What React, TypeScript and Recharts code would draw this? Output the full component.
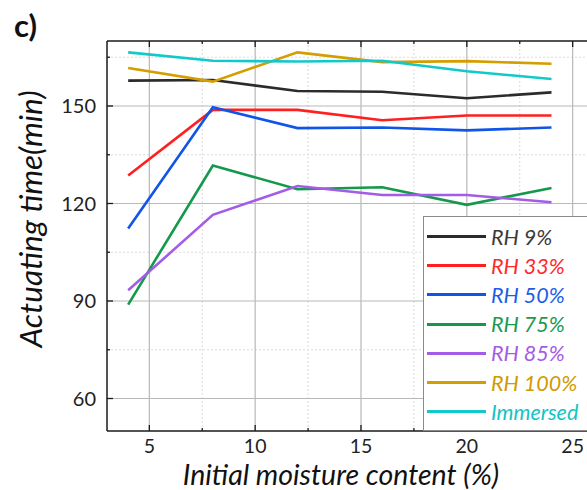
import React from "react";

// Library
import { LineChart, XAxis, YAxis, Line, ReferenceLine } from "recharts";

const moisture = [4, 8, 12, 16, 20, 24];

const rh9 = [157.8, 158, 154.6, 154.4, 152.4, 154.2];
const rh33 = [128.6, 148.8, 148.8, 145.6, 147.1, 147.1];
const rh50 = [112.3, 149.6, 143.2, 143.4, 142.5, 143.4];
const rh75 = [88.9, 131.7, 124.4, 125, 119.6, 124.8];
const rh85 = [93.3, 116.5, 125.4, 122.6, 122.6, 120.4];
const rh100 = [161.7, 157.5, 166.5, 163.5, 163.8, 163];
const immersed = [166.5, 163.9, 163.7, 163.9, 160.7, 158.3];

const xMajor = [5, 10, 15, 20, 25];
const xMinor = [7.5, 12.5, 17.5, 22.5];
const yMajor = [60, 90, 120, 150];
const yMinor = [75, 105, 135, 165];

const series = [
  { key: "rh9", name: "RH 9%", values: rh9, color: "#2b2b2b", text: "#3a3a3a" },
  { key: "rh33", name: "RH 33%", values: rh33, color: "#ff1f1f", text: "#ff2a2a" },
  { key: "rh50", name: "RH 50%", values: rh50, color: "#0f55e8", text: "#1a5ee8" },
  { key: "rh75", name: "RH 75%", values: rh75, color: "#14994c", text: "#1a9a50" },
  { key: "rh85", name: "RH 85%", values: rh85, color: "#a45ce6", text: "#a45ce6" },
  { key: "rh100", name: "RH 100%", values: rh100, color: "#d49e00", text: "#d09a00" },
  { key: "immersed", name: "Immersed", values: immersed, color: "#12c9c9", text: "#12c4c4" },
];

const data = moisture.map((m, i) => {
  const row: { [key: string]: number } = { m };
  series.forEach((s) => (row[s.key] = s.values[i]));
  return row;
});

const xTicks = [...xMajor, ...xMinor].sort((a, b) => a - b);
const yTicks = [...yMajor, ...yMinor].sort((a, b) => a - b);

const FONT = "Lato, 'Open Sans', sans-serif";
const AXIS = "#1a1a1a";

function BottomTick({ x, y, payload }: any) {
  const major = xMajor.includes(payload.value);
  return (
    <g>
      <line x1={x} x2={x} y1={y} y2={y - (major ? 6 : 3)} stroke={AXIS} strokeWidth={1.3} />
      {major && (
        <text x={x} y={y + 22} textAnchor="middle" fontSize={19.5} fontFamily={FONT} fill="#222">
          {payload.value}
        </text>
      )}
    </g>
  );
}

function TopTick({ x, y, payload }: any) {
  const major = xMajor.includes(payload.value);
  return <line x1={x} x2={x} y1={y} y2={y + (major ? 6 : 3)} stroke={AXIS} strokeWidth={1.3} />;
}

function LeftTick({ x, y, payload }: any) {
  const major = yMajor.includes(payload.value);
  return (
    <g>
      <line x1={x} x2={x + (major ? 6 : 3)} y1={y} y2={y} stroke={AXIS} strokeWidth={1.3} />
      {major && (
        <text x={x - 11} y={y + 7} textAnchor="end" fontSize={20} fontFamily={FONT} fill="#222">
          {payload.value}
        </text>
      )}
    </g>
  );
}

function App() {
  return (
    <div
      style={{
        position: "absolute",
        left: 0,
        top: 0,
        width: 587,
        height: 490,
        overflow: "hidden",
        background: "#fff",
        fontFamily: FONT,
      }}
    >
      <LineChart
        width={620}
        height={490}
        data={data}
        margin={{ top: 40, right: 5, bottom: 29, left: 47 }}
      >
        <XAxis
          xAxisId="b"
          dataKey="m"
          type="number"
          domain={[3, 27]}
          ticks={xTicks}
          height={30}
          tickSize={0}
          tickMargin={0}
          tickLine={false}
          tick={<BottomTick />}
          axisLine={{ stroke: AXIS, strokeWidth: 1.5 }}
          interval={0}
        />
        <XAxis
          xAxisId="t"
          orientation="top"
          dataKey="m"
          type="number"
          domain={[3, 27]}
          ticks={xTicks}
          height={1}
          tickSize={0}
          tickMargin={0}
          tickLine={false}
          tick={<TopTick />}
          axisLine={{ stroke: AXIS, strokeWidth: 1.5 }}
          interval={0}
        />
        <YAxis
          type="number"
          domain={[50, 170]}
          ticks={yTicks}
          width={60}
          tickSize={0}
          tickMargin={0}
          tickLine={false}
          tick={<LeftTick />}
          axisLine={{ stroke: AXIS, strokeWidth: 1.5 }}
          interval={0}
        />
        {xMinor.map((v) => (
          <ReferenceLine key={"xm" + v} xAxisId="b" x={v} stroke="#dcdcdc" strokeWidth={1} strokeDasharray="2 2" />
        ))}
        {yMinor.map((v) => (
          <ReferenceLine key={"ym" + v} xAxisId="b" y={v} stroke="#dcdcdc" strokeWidth={1} strokeDasharray="2 2" />
        ))}
        {xMajor.map((v) => (
          <ReferenceLine key={"x" + v} xAxisId="b" x={v} stroke="#b8b8b8" strokeWidth={1.2} />
        ))}
        {yMajor.map((v) => (
          <ReferenceLine key={"y" + v} xAxisId="b" y={v} stroke="#b8b8b8" strokeWidth={1.2} />
        ))}
        {series.map((s) => (
          <Line
            key={s.key}
            xAxisId="b"
            dataKey={s.key}
            name={s.name}
            type="linear"
            stroke={s.color}
            strokeWidth={2.6}
            dot={false}
            isAnimationActive={false}
          />
        ))}
      </LineChart>

      {/* panel label and axis titles */}
      <div style={{ position: "absolute", left: 14, top: 6, fontSize: 31, fontWeight: 700, color: "#111" }}>
        c)
      </div>
      <div
        style={{
          position: "absolute",
          left: 341,
          top: 474,
          transform: "translate(-50%, -50%)",
          whiteSpace: "nowrap",
          fontSize: 28.5,
          lineHeight: "30px",
          fontStyle: "italic",
          color: "#111",
        }}
      >
        Initial moisture content (%)
      </div>
      <div
        style={{
          position: "absolute",
          left: 30,
          top: 219,
          transform: "translate(-50%, -50%) rotate(-90deg)",
          whiteSpace: "nowrap",
          fontSize: 31.5,
          lineHeight: "34px",
          fontStyle: "italic",
          color: "#111",
        }}
      >
        Actuating time(min)
      </div>

      {/* legend */}
      <div
        style={{
          position: "absolute",
          left: 423,
          top: 216,
          width: 200,
          height: 215,
          border: "1px solid #8a8a8a",
          background: "#fff",
          boxSizing: "border-box",
          paddingTop: 5,
        }}
      >
        {series.map((s) => (
          <div key={s.key} style={{ display: "flex", alignItems: "center", height: 29.2 }}>
            <div style={{ marginLeft: 3, width: 59, height: 3, background: s.color }} />
            <span style={{ marginLeft: 5, fontSize: 21.5, fontStyle: "italic", color: s.text }}>{s.name}</span>
          </div>
        ))}
      </div>
    </div>
  );
}

export default App;
